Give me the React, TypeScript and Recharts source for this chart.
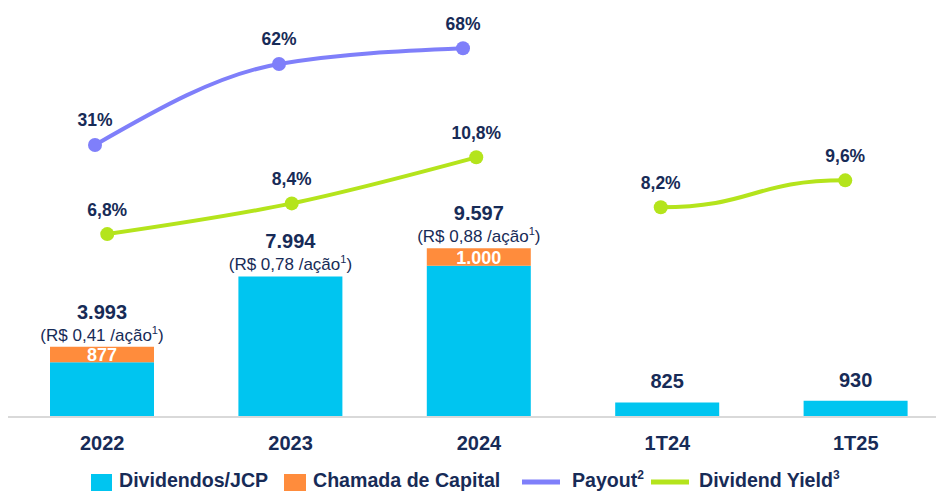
import React from "react";
import { ComposedChart, Bar, Line, XAxis, YAxis, LabelList, Legend } from "recharts";

const categories = ["2022", "2023", "2024", "1T24", "1T25"];
const dividendos = [3116, 7994, 8597, 825, 930];
const chamadaCapital = [877, 0, 1000, 0, 0];
const totals = [3993, 7994, 9597, 825, 930];
const perShare: (string | null)[] = ["0,41", "0,78", "0,88", null, null];
const payout: (number | null)[] = [31, 62, 68, null, null];
const yieldA: (number | null)[] = [6.8, 8.4, 10.8, null, null];
const yieldB: (number | null)[] = [null, null, null, 8.2, 9.6];

const data = categories.map((cat, i) => ({
  cat,
  div: dividendos[i],
  cap: chamadaCapital[i],
  total: totals[i],
  payout: payout[i],
  dyA: yieldA[i],
  dyB: yieldB[i],
}));

const NAVY = "#172B57";
const BLUE = "#00C5F0";
const ORANGE = "#FF8C3C";
const PURPLE = "#7F7FFA";
const GREEN = "#B4E41C";
const FONT = "'Liberation Sans', Arial, sans-serif";

const fmtInt = (n: number) => String(n).replace(/\B(?=(\d{3})+(?!\d))/g, ".");
const fmtPct = (v: number) => String(v).replace(".", ",") + "%";

// Placed on the Dividendos bar; the stack top is found from the bar's own pixel scale.
const TotalLabel = (props: any) => {
  const { x, y, width, height, index, value } = props;
  if (value == null || index == null) return null;
  const cx = Number(x) + Number(width) / 2;
  const pxPerUnit = Number(height) / dividendos[index];
  const top = Number(y) - chamadaCapital[index] * pxPerUnit;
  const ps = perShare[index];
  if (ps) {
    return (
      <g>
        <text x={cx} y={top - 28} textAnchor="middle" fill={NAVY} fontFamily={FONT} fontWeight="bold" fontSize={20}>
          {fmtInt(Number(value))}
        </text>
        <text x={cx} y={top - 6} textAnchor="middle" fill={NAVY} fontFamily={FONT} fontSize={17}>
          {`(R$ ${ps} /ação`}
          <tspan fontSize={11} dy={-7}>1</tspan>
          <tspan dy={7}>)</tspan>
        </text>
      </g>
    );
  }
  return (
    <text x={cx} y={top - 14} textAnchor="middle" fill={NAVY} fontFamily={FONT} fontWeight="bold" fontSize={20}>
      {fmtInt(Number(value))}
    </text>
  );
};

const CapInnerLabel = (props: any) => {
  const { x, y, width, height, value } = props;
  if (!value) return null;
  return (
    <text
      x={Number(x) + Number(width) / 2}
      y={Number(y) + Number(height) / 2 + 6.5}
      textAnchor="middle"
      fill="#FFFFFF"
      fontFamily={FONT}
      fontWeight="bold"
      fontSize={18}
    >
      {fmtInt(Number(value))}
    </text>
  );
};

const PctLabel = (props: any) => {
  const { x, y, value } = props;
  if (value == null) return null;
  return (
    <text x={Number(x)} y={Number(y) - 18.5} textAnchor="middle" fill={NAVY} fontFamily={FONT} fontWeight="bold" fontSize={17.5}>
      {fmtPct(Number(value))}
    </text>
  );
};

const CatTick = (props: any) => {
  const { x, y, payload } = props;
  return (
    <text x={x} y={Number(y) + 33} textAnchor="middle" fill={NAVY} fontFamily={FONT} fontWeight="bold" fontSize={20}>
      {payload.value}
    </text>
  );
};

const renderLegend = () => (
  <svg width={936} height={36} style={{ display: "block", overflow: "visible" }}>
    <g fontFamily={FONT} fontWeight="bold" fontSize={19.6} fill={NAVY}>
      <rect x={91} y={19} width={21} height={17} fill={BLUE} />
      <text x={119} y={32}>Dividendos/JCP</text>
      <rect x={284} y={19} width={22} height={17} fill={ORANGE} />
      <text x={313} y={32}>Chamada de Capital</text>
      <line x1={522} x2={560} y1={27} y2={27} stroke={PURPLE} strokeWidth={5} />
      <text x={572} y={32}>
        Payout<tspan fontSize={12} dy={-8}>2</tspan>
      </text>
      <line x1={651} x2={689} y1={27} y2={27} stroke={GREEN} strokeWidth={5} />
      <text x={699} y={32}>
        Dividend Yield<tspan fontSize={12} dy={-8}>3</tspan>
      </text>
    </g>
  </svg>
);

export default function App() {
  return (
    <div style={{ position: "fixed", left: 0, top: 0, width: 936, height: 491, overflow: "hidden", background: "#fff" }}>
      <ComposedChart width={936} height={491} data={data} margin={{ top: 8, right: 0, bottom: 0, left: 8 }}>
        <XAxis
          xAxisId="bar"
          dataKey="cat"
          height={38}
          padding={{ left: 0, right: -14 }}
          axisLine={{ stroke: "#D9D9D9", strokeWidth: 2 }}
          tickLine={false}
          tickSize={0}
          tickMargin={0}
          tick={<CatTick />}
          interval={0}
        />
        <XAxis xAxisId="p" dataKey="cat" hide padding={{ left: -5, right: 13 }} />
        <XAxis xAxisId="d" dataKey="cat" hide padding={{ left: 7, right: -1.5 }} />
        <YAxis yAxisId="bar" hide type="number" domain={[0, 23257]} allowDataOverflow />
        <YAxis yAxisId="p" hide type="number" domain={[-73.12, 83.42]} allowDataOverflow />
        <YAxis yAxisId="d" hide type="number" domain={[-2.73, 18.58]} allowDataOverflow />
        <Legend verticalAlign="bottom" height={36} content={renderLegend} wrapperStyle={{ left: 0, bottom: 0, width: 936, height: 36 }} />
        <Bar xAxisId="bar" yAxisId="bar" dataKey="div" name="Dividendos/JCP" stackId="s" fill={BLUE} barSize={104} isAnimationActive={false}>
          <LabelList dataKey="total" content={<TotalLabel />} />
        </Bar>
        <Bar xAxisId="bar" yAxisId="bar" dataKey="cap" name="Chamada de Capital" stackId="s" fill={ORANGE} barSize={104} isAnimationActive={false}>
          <LabelList dataKey="cap" content={<CapInnerLabel />} />
        </Bar>
        <Line
          xAxisId="p"
          yAxisId="p"
          type="monotone"
          dataKey="payout"
          name="Payout"
          stroke={PURPLE}
          strokeWidth={4}
          dot={{ r: 7, fill: PURPLE, stroke: PURPLE, strokeWidth: 0 }}
          activeDot={false}
          isAnimationActive={false}
        >
          <LabelList dataKey="payout" content={<PctLabel />} />
        </Line>
        <Line
          xAxisId="d"
          yAxisId="d"
          type="monotone"
          dataKey="dyA"
          name="Dividend Yield"
          stroke={GREEN}
          strokeWidth={4}
          dot={{ r: 7, fill: GREEN, stroke: GREEN, strokeWidth: 0 }}
          activeDot={false}
          isAnimationActive={false}
        >
          <LabelList dataKey="dyA" content={<PctLabel />} />
        </Line>
        <Line
          xAxisId="d"
          yAxisId="d"
          type="bumpX"
          dataKey="dyB"
          name="Dividend Yield B"
          stroke={GREEN}
          strokeWidth={4}
          dot={{ r: 7, fill: GREEN, stroke: GREEN, strokeWidth: 0 }}
          activeDot={false}
          isAnimationActive={false}
        >
          <LabelList dataKey="dyB" content={<PctLabel />} />
        </Line>
      </ComposedChart>
    </div>
  );
}
